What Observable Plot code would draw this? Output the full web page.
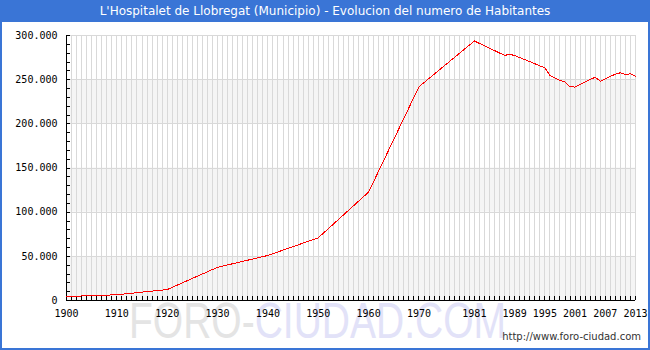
<!DOCTYPE html>
<html><head><meta charset="utf-8">
<script src="https://cdn.jsdelivr.net/npm/d3@7"></script>
<script src="https://cdn.jsdelivr.net/npm/@observablehq/plot@0.6"></script>
<style>
html,body{margin:0;padding:0;background:#fff;}
#wrap{position:relative;width:650px;height:350px;overflow:hidden;background:#fff;}
#title{position:absolute;left:0;top:0;width:650px;height:22px;background:#3a75d6;color:#fff;font:12px "DejaVu Sans";line-height:22px;text-align:center;z-index:3;}
#frame{position:absolute;left:0;top:0;width:650px;height:350px;box-sizing:border-box;border:2px solid #3a75d6;z-index:4;}
#wm{position:absolute;left:129px;top:297px;font:39px "Liberation Sans";line-height:39px;white-space:nowrap;z-index:0;transform:scaleY(1.3);transform-origin:0 5px;}
#url{position:absolute;right:9px;top:331px;font:10px "DejaVu Sans";color:#333;z-index:3;}
#chart{position:absolute;left:0;top:0;z-index:1;}
</style></head>
<body>
<div id="wrap">
  <div id="wm"><span style="color:#e4e4e4">FORO-</span><span style="color:#e2e2f8">CIUDAD.COM</span></div>
  <div id="chart"></div>
  <div id="title">L'Hospitalet de Llobregat (Municipio) - Evolucion del numero de Habitantes</div>
  <div id="url">http://www.foro-ciudad.com</div>
  <div id="frame"></div>
</div>
<script>
const years = [1900,1910,1920,1930,1940,1950,1960,1970,1981,1987,1988,1989,1995,1996,1998,1999,2000,2001,2002,2003,2004,2005,2006,2007,2008,2009,2010,2011,2012,2013];
const population = [4500,6500,12400,37600,51000,71000,122800,242000,293800,277500,278600,277400,263400,254700,249000,247500,242000,241600,244500,247500,250200,252800,248200,250800,253800,256200,257800,255900,256700,253800];
const xLabels = [1900,1910,1920,1930,1940,1950,1960,1970,1981,1989,1995,2001,2007,2013];
const yLabels = [0,50000,100000,150000,200000,250000,300000];
const bands = [[0,50000],[100000,150000],[200000,250000]];
const gridYears = d3.range(1900, 2014);
const yMinor = d3.range(0, 300001, 10000);
const fmt = d => d3.format(",")(d).replace(/,/g, ".");

const chart = Plot.plot({
  width: 650, height: 350,
  marginLeft: 66, marginRight: 15, marginTop: 35, marginBottom: 50,
  style: {background: "transparent", fontFamily: "DejaVu Sans Mono", fontSize: "10px", color: "#000"},
  x: {domain: [1900, 2013]},
  y: {domain: [0, 300000]},
  marks: [
    Plot.rect(bands, {x1: 1900, x2: 2013, y1: d => d[0], y2: d => d[1], fill: "#f5f5f5"}),
    Plot.ruleX(gridYears, {x: d => d, stroke: "#d9d9d9", shapeRendering: "crispEdges"}),
    Plot.ruleY(yLabels, {y: d => d, stroke: "#d9d9d9", shapeRendering: "crispEdges"}),
    Plot.ruleX(gridYears, {x: d => d, y1: 0, y2: 0, insetTop: -4, stroke: "#000", shapeRendering: "crispEdges"}),
    Plot.ruleY(yMinor, {y: d => d, x1: 1900, x2: 1900, insetRight: -4, stroke: "#000", shapeRendering: "crispEdges"}),
    Plot.ruleX([1900], {stroke: "#000", shapeRendering: "crispEdges"}),
    Plot.ruleY([0], {stroke: "#000", shapeRendering: "crispEdges"}),
    Plot.line(years, {x: years, y: population, stroke: "#ff0000", strokeWidth: 1, shapeRendering: "crispEdges"}),
    Plot.axisX({ticks: xLabels, tickSize: 0, tickPadding: 9, tickFormat: d => String(d), label: null}),
    Plot.axisY({ticks: yLabels, tickSize: 0, tickPadding: 9, tickFormat: fmt, label: null})
  ]
});
document.getElementById("chart").appendChild(chart);
</script>
</body></html>
